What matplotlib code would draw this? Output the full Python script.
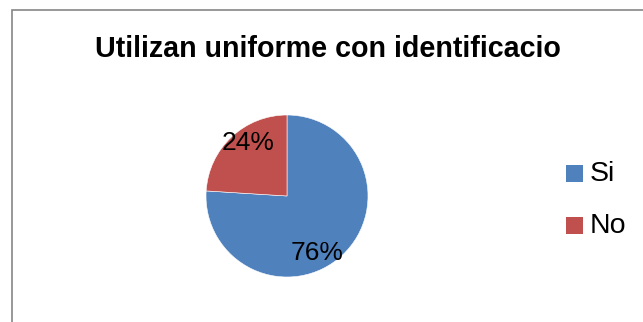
import matplotlib
matplotlib.use("Agg")
import matplotlib.pyplot as plt
from matplotlib.patches import Rectangle

categories = ["Si", "No"]
values = [76, 24]
colors = ["#4F81BD", "#C0504D"]
title = "Utilizan uniforme con identificacio"

W, H = 643, 322
fig = plt.figure(figsize=(W / 100, H / 100), dpi=100)
plt.rcParams['font.family'] = ['Liberation Sans', 'DejaVu Sans']

# chart border (cut off at right / bottom)
fig.patches.append(Rectangle((11.5 / W, -0.1), 1.2, (H - 9.7) / H + 0.1,
                             transform=fig.transFigure, fill=False,
                             edgecolor="#868686", linewidth=1.2))

fig.text(327.5 / W, 1 - 49 / H, title, ha="center", va="center",
         fontsize=20.6, fontweight="bold")

# pie area: center (287,196), radius 81 px
cx, cy, r = 287, 196, 81
ax = fig.add_axes([(cx - r) / W, 1 - (cy + r) / H, 2 * r / W, 2 * r / H])
wedges, texts, autotexts = ax.pie(values, colors=colors, startangle=90,
                                  counterclock=False, autopct="%d%%",
                                  pctdistance=0.8,
                                  wedgeprops=dict(edgecolor="white", linewidth=0.4),
                                  textprops=dict(fontsize=19))
label_pos = [(0.37, -0.70), (-0.48, 0.65)]
for t, p in zip(autotexts, label_pos):
    t.set_position(p)
ax.set_xlim(-1, 1)
ax.set_ylim(-1, 1)
ax.set_aspect("auto")

# legend
for i, (c, lab) in enumerate(zip(colors, categories)):
    y = 173 + i * 52
    fig.patches.append(Rectangle((566 / W, 1 - (y + 8.5) / H), 17 / W, 17 / H,
                                 transform=fig.transFigure, facecolor=c,
                                 edgecolor="none"))
    fig.text(590 / W, 1 - (y + 1) / H, lab, ha="left", va="center", fontsize=20.5)

fig.savefig("out.png", dpi=100)
